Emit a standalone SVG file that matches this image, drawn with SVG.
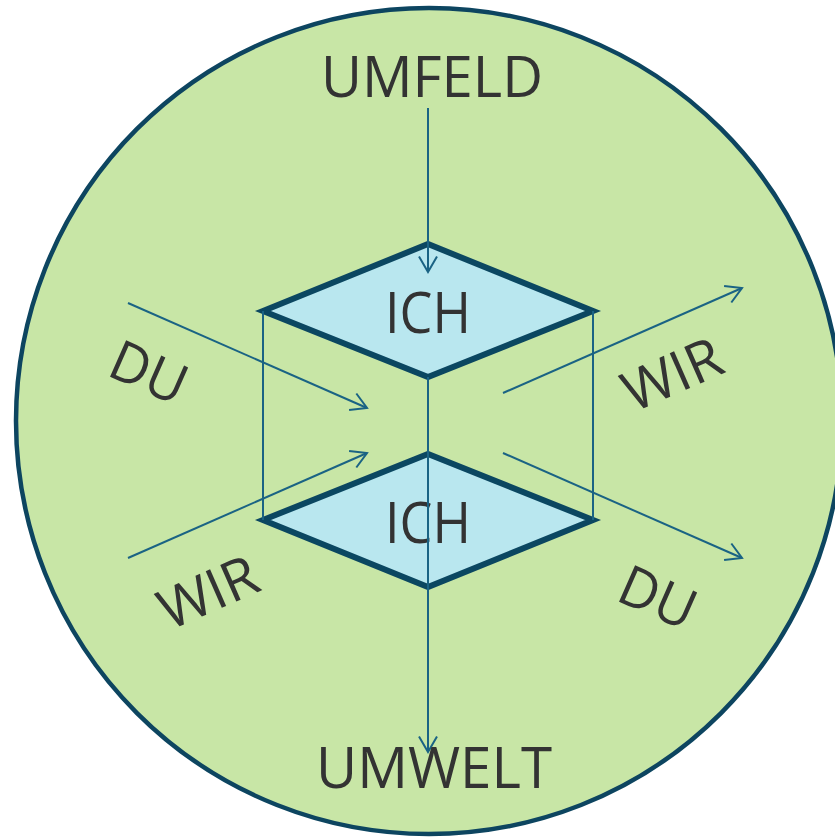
<svg xmlns="http://www.w3.org/2000/svg" width="835" height="840" viewBox="0 0 835 840">
  <style>
    .lbl { font-family: "Open Sans", "Noto Sans", "Liberation Sans", sans-serif; font-size: 56px; fill: #333333; text-anchor: middle; }
    .dia { fill: #b9e7ef; stroke: #0b4761; stroke-width: 6; stroke-linejoin: miter; }
    .con { stroke: #1a6384; stroke-width: 2; fill: none; }
    .arr { marker-end: url(#ah); }
  </style>
  <defs>
    <marker id="ah" markerUnits="userSpaceOnUse" markerWidth="24" markerHeight="24" viewBox="-20 -12 24 24" refX="0" refY="0" orient="auto">
      <path d="M -15.6,-9 L 0,0 L -15.6,9" fill="none" stroke="#1a6384" stroke-width="2"/>
    </marker>
  </defs>
  <rect width="835" height="840" fill="#ffffff"/>
  <g id="circle">
    <circle cx="429" cy="421" r="413" fill="#c8e6a6" stroke="#0d4560" stroke-width="4.5"/>
  </g>
  <g id="ich-top">
    <polygon class="dia" points="263,311 428,244 593,311 428,377"/>
    <text class="lbl" x="428" y="333" textLength="86" lengthAdjust="spacingAndGlyphs">ICH</text>
  </g>
  <g id="ich-bottom">
    <polygon class="dia" points="263,520 428,454 593,520 428,587"/>
    <text class="lbl" x="428" y="543" textLength="86" lengthAdjust="spacingAndGlyphs">ICH</text>
  </g>
  <g id="connectors">
    <line class="con" x1="263" y1="311" x2="263" y2="520"/>
    <line class="con" x1="593" y1="311" x2="593" y2="520"/>
    <line class="con arr" x1="428" y1="108" x2="428" y2="272"/>
    <line class="con arr" x1="428" y1="377" x2="428" y2="752"/>
    <line class="con arr" x1="128" y1="303" x2="367" y2="408"/>
    <line class="con arr" x1="128" y1="558" x2="367" y2="453"/>
    <line class="con arr" x1="503" y1="393" x2="742" y2="288"/>
    <line class="con arr" x1="503" y1="453" x2="742" y2="558"/>
  </g>
  <g id="umfeld">
    <text class="lbl" x="432" y="97" textLength="222" lengthAdjust="spacingAndGlyphs">UMFELD</text>
  </g>
  <g id="umwelt">
    <text class="lbl" x="434" y="788" textLength="236" lengthAdjust="spacingAndGlyphs">UMWELT</text>
  </g>
  <g id="du-left">
    <text class="lbl" transform="translate(149,372) rotate(23.7)" x="0" y="20" textLength="78" lengthAdjust="spacingAndGlyphs">DU</text>
  </g>
  <g id="wir-left">
    <text class="lbl" transform="translate(208,592) rotate(-23.7)" x="0" y="20" textLength="103" lengthAdjust="spacingAndGlyphs">WIR</text>
  </g>
  <g id="wir-right">
    <text class="lbl" transform="translate(672,374) rotate(-23.7)" x="0" y="20" textLength="103" lengthAdjust="spacingAndGlyphs">WIR</text>
  </g>
  <g id="du-right">
    <text class="lbl" transform="translate(658,597) rotate(23.7)" x="0" y="20" textLength="78" lengthAdjust="spacingAndGlyphs">DU</text>
  </g>
</svg>
